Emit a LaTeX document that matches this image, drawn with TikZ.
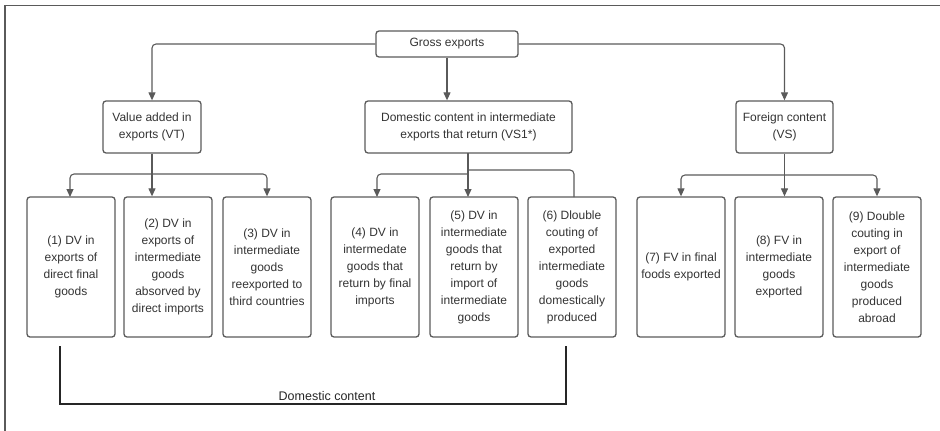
\documentclass[tikz,border=0pt]{standalone}
\usepackage{fontspec}
\setmainfont{Liberation Sans}
\usetikzlibrary{arrows.meta}
\definecolor{linegray}{HTML}{5A5A5A}
\definecolor{textgray}{HTML}{333333}

\begin{document}
\begin{tikzpicture}[x=1pt,y=-1pt]
   \tikzset{
      Box/.style = {draw=linegray, line width=1.3pt, rounded corners=3pt,
                    align=center, text=textgray, inner sep=2pt,
                    font=\fontsize{12}{17}\selectfont},
      TopBox/.style = {Box, minimum height=52pt},
      LeafBox/.style = {Box, minimum width=88pt, minimum height=140pt},
      Link/.style = {draw=linegray, line width=1.1pt, rounded corners=4pt},
      LinkArrow/.style = {Link, -{Triangle[length=8pt,width=7pt]}}
   }
   \useasboundingbox (0,0) rectangle (940,431);
   \draw[linegray, line width=1.3pt] (5,431) -- (5,5.5) -- (940,5.5);
   % top and middle row
   \node[Box, minimum width=142pt, minimum height=26pt] (gross) at (447,44) {Gross exports};
   \node[TopBox, minimum width=98pt]  (VT)  at (152,127)   {Value added in\\exports (VT)};
   \node[TopBox, minimum width=207pt] (VS1) at (468.5,127) {Domestic content in intermediate\\exports that return (VS1*)};
   \node[TopBox, minimum width=97pt]  (VS)  at (784.5,127) {Foreign content\\(VS)};
   % leaves
   \node[LeafBox] (DV1) at (71,267)  {(1) DV in\\exports of\\direct final\\goods};
   \node[LeafBox] (DV2) at (168,267) {(2) DV in\\exports of\\intermediate\\goods\\absorved by\\direct imports};
   \node[LeafBox] (DV3) at (267,267) {(3) DV in\\intermediate\\goods\\reexported to\\third countries};
   \node[LeafBox] (DV4) at (375,267) {(4) DV in\\intermedate\\goods that\\return by final\\imports};
   \node[LeafBox] (DV5) at (474,267) {(5) DV in\\intermediate\\goods that\\return by\\import of\\intermediate\\goods};
   \node[LeafBox] (DV6) at (572,267) {(6) Dlouble\\couting of\\exported\\intermediate\\goods\\domestically\\produced};
   \node[LeafBox] (FV7) at (681,267) {(7) FV in final\\foods exported};
   \node[LeafBox] (FV8) at (779,267) {(8) FV in\\intermediate\\goods\\exported};
   \node[LeafBox] (FV9) at (877,267) {(9) Double\\couting in\\export of\\intermediate\\goods\\produced\\abroad};
   % edges from gross exports
   \draw[LinkArrow] (gross.west) -| (VT.north);
   \draw[LinkArrow] (gross.south) -- (gross.south |- VS1.north);
   \draw[LinkArrow] (gross.east) -| (VS.north);
   % value added
   \coordinate (VTj) at (152,174);
   \draw[LinkArrow] (VT.south) -- (VT.south |- DV2.north);
   \draw[LinkArrow] (VTj) -| (70,197);
   \draw[LinkArrow] (VTj) -| (DV3.north);
   % domestic content that returns
   \coordinate (VS1j) at (468,174);
   \coordinate (VS1k) at (468,170);
   \draw[LinkArrow] (468,153) -- (468,197);
   \draw[LinkArrow] (VS1j) -| (377,197);
   \draw[Link] (VS1k) -| (574,197);
   % foreign content
   \coordinate (VSj) at (784,175);
   \draw[LinkArrow] (VS.south) -- (VS.south |- FV8.north);
   \draw[LinkArrow] (VSj) -| (FV7.north);
   \draw[LinkArrow] (VSj) -| (FV9.north);
   % domestic content bracket
   \coordinate (dcl) at (60,346);
   \coordinate (dcb) at (60,404);
   \coordinate (dcr) at (566,346);
   \draw[black!85, line width=1.1pt] (dcl) -- (dcb) -| (dcr);
   \node[text=black!85, font=\fontsize{12.5}{15}\selectfont] (dc) at (327,396) {Domestic content};
\end{tikzpicture}
\end{document}
